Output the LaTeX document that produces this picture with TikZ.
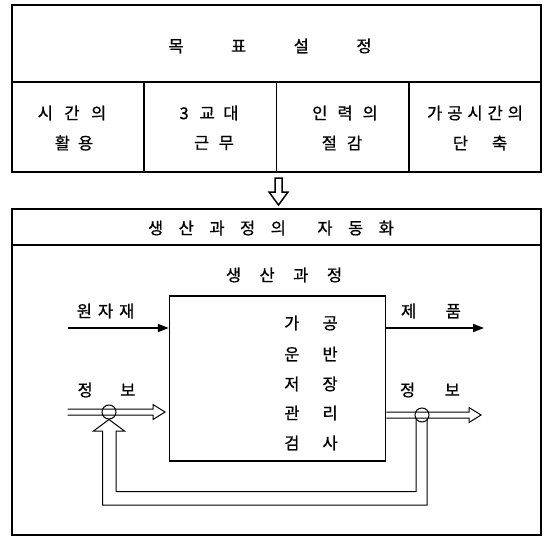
\documentclass[tikz,border=0pt]{standalone}
\usepackage{fontspec}
\newfontfamily\krfont[FakeBold=0.8]{Noto Sans CJK KR}
\usetikzlibrary{arrows.meta}
\newcommand{\kgap}[1]{\hspace{#1pt}}
\begin{document}
\begin{tikzpicture}[x=1pt,y=-1pt,
  frame/.style={line width=2pt},
  cellline/.style={line width=1.5pt},
  lbl/.style={font=\krfont\fontsize{16.5}{16.5}\selectfont, inner sep=0pt, anchor=center},
  solidarrow/.style={line width=2pt,-{Triangle[length=11pt,width=8pt]}},
  thinline/.style={line width=1pt},
  hollowarrow/.style={line width=1.5pt, line join=miter}]
\useasboundingbox (0,0) rectangle (549,538);

% ---------- top box ----------
\draw[frame] (12,5) rectangle (541,172);
\draw[cellline] (12,82) -- (541,82);
\foreach \x in {144,276.5,409} \draw[cellline] (\x,82) -- (\x,172);
\node[lbl] (goal) at (270,46) {목\kgap{47.5}표\kgap{47.5}설\kgap{47.5}정};
\node[lbl] (c1a) at (72,113) {시\kgap{11.5}간\kgap{11.5}의};
\node[lbl] (c1b) at (74,143) {활\kgap{8}용};
\node[lbl] (c2a) at (209,113) {3\kgap{11}교\kgap{8.5}대};
\node[lbl] (c2b) at (214,143) {근\kgap{9.5}무};
\node[lbl] (c3a) at (345,113) {인\kgap{10}력\kgap{10}의};
\node[lbl] (c3b) at (342,143) {절\kgap{10}감};
\node[lbl] (c4a) at (475,113) {가\kgap{5}공\kgap{5}시\kgap{5}간\kgap{5}의};
\node[lbl] (c4b) at (480,143) {단\kgap{24}축};

% ---------- hollow down arrow ----------
\draw[hollowarrow] (275,178) -- (282,178) -- (282,192) -- (288,192) -- (278.5,205) -- (269,192) -- (275,192) -- cycle;

% ---------- bottom box ----------
\draw[frame] (12,209) rectangle (541,535);
\draw[cellline] (12,245) -- (541,245);
\node[lbl] (auto) at (271,228) {생\kgap{15.5}산\kgap{15.5}과\kgap{15.5}정\kgap{15.5}의\kgap{31.5}자\kgap{15.5}동\kgap{15.5}화};

% process box
\node[draw, line width=1.6pt, minimum width=216pt, minimum height=165pt, inner sep=0pt] (proc) at (277.6,378.2) {};
\node[lbl] (proct) at (284,275) {생\kgap{18.5}산\kgap{18.5}과\kgap{18.5}정};
\node[lbl] (r1) at (311,323) {가\kgap{23}공};
\node[lbl] (r2) at (311,354) {운\kgap{23}반};
\node[lbl] (r3) at (311,384) {저\kgap{23}장};
\node[lbl] (r4) at (311,413) {관\kgap{23}리};
\node[lbl] (r5) at (311,443) {검\kgap{23}사};

% raw material / product
\coordinate (rawin) at (67.5,328);
\coordinate (prodout) at (484,328);
\draw[solidarrow] (rawin) -- (proc.west |- rawin);
\draw[solidarrow] (proc.east |- prodout) -- (prodout);
\node[lbl] (raw) at (105.6,311) {원\kgap{6}자\kgap{6}재};
\node[lbl] (prod) at (431,311) {제\kgap{29.5}품};

% information in (left)
\node[lbl] (infoL) at (106.5,390) {정\kgap{27.5}보};
\draw[thinline] (67.5,409) -- (153,409) -- (153,404.5) -- (165,412) -- (153,419.5) -- (153,415) -- (67.5,415);
\node[draw, thinline, circle, minimum size=14pt, inner sep=0pt] (cL) at (109,412) {};

% information out (right)
\node[lbl] (infoR) at (430,390) {정\kgap{29.5}보};
\coordinate (ro1) at (proc.east |- 0,412);
\coordinate (ro2) at (proc.east |- 0,418);
\draw[thinline] (ro1) -- (469,412) -- (469,407.5) -- (481,415) -- (469,422.5) -- (469,418) -- (ro2);
\node[draw, thinline, circle, minimum size=14pt, inner sep=0pt] (cR) at (422,415) {};

% feedback loop
\draw[thinline] (416,419) -- (416,491.5) -- (116,491.5) -- (116,431) -- (124.5,431) -- (cL.south) -- (93.5,431) -- (102.5,431) -- (102.5,505) -- (427,505) -- (427,419);
\end{tikzpicture}
\end{document}
